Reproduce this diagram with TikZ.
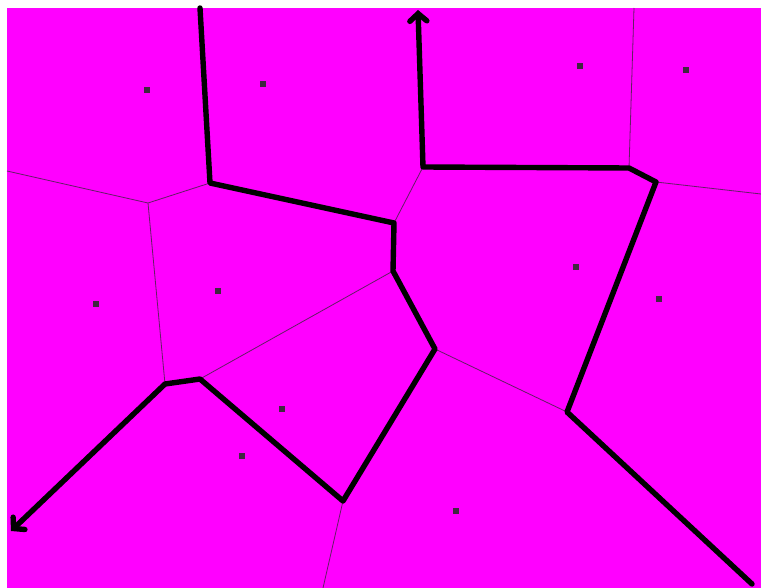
\documentclass[tikz,border=0pt]{standalone}
\usetikzlibrary{arrows.meta}
\definecolor{cellfill}{RGB}{255,0,255}
\definecolor{sitecol}{RGB}{64,40,64}
\definecolor{edgecol}{RGB}{100,30,100}
\newcommand{\sitedot}[2]{\fill[sitecol] (#1,#2) ++(-2.6,-2.6) rectangle ++(5.2,5.2);}
\tikzset{
  thinedge/.style={draw=edgecol,line width=0.8pt},
  pathedge/.style={draw=black,line width=5.4pt,line join=round,line cap=round},
  barb/.style={-{Straight Barb[length=7.5pt,width=17pt,line cap=round]}}
}

\begin{document}
\begin{tikzpicture}[x=1pt,y=-1pt]
\useasboundingbox (0,0) rectangle (761,588);
\fill[cellfill] (7,8) rectangle (761,588);
% voronoi vertices
\coordinate (t1) at (200,8);
\coordinate (v1) at (210,183);
\coordinate (v2) at (394,223);
\coordinate (v3) at (393,271);
\coordinate (v4) at (435,349);
\coordinate (v5) at (343,501);
\coordinate (v6) at (200,379);
\coordinate (v7) at (165,384);
\coordinate (e1) at (11,531);
\coordinate (t2) at (418,10);
\coordinate (v8) at (423,167);
\coordinate (v9) at (629,168);
\coordinate (v10) at (656,182);
\coordinate (v11) at (567,412);
\coordinate (e2) at (752,584);
\coordinate (v12) at (148,203);
\coordinate (b1) at (7,171);
\coordinate (b2) at (634,8);
\coordinate (b3) at (761,194);
\coordinate (b4) at (323,588);
% thin cell edges
\draw[thinedge] (b1) -- (v12) -- (v1);
\draw[thinedge] (v12) -- (v7);
\draw[thinedge] (v6) -- (v3);
\draw[thinedge] (v2) -- (v8);
\draw[thinedge] (b2) -- (v9);
\draw[thinedge] (v10) -- (b3);
\draw[thinedge] (v4) -- (v11);
\draw[thinedge] (v5) -- (b4);
% thick paths
\draw[pathedge,barb] (t1) -- (v1) -- (v2) -- (v3) -- (v4) -- (v5) -- (v6) -- (v7) -- (e1);
\draw[pathedge,barb] (e2) -- (v11) -- (v10) -- (v9) -- (v8) -- (t2);
% sites
\sitedot{147}{90}
\sitedot{263}{84}
\sitedot{580}{66}
\sitedot{686}{70}
\sitedot{96}{304}
\sitedot{218}{291}
\sitedot{576}{267}
\sitedot{659}{299}
\sitedot{282}{409}
\sitedot{242}{456}
\sitedot{456}{511}
\end{tikzpicture}
\end{document}
